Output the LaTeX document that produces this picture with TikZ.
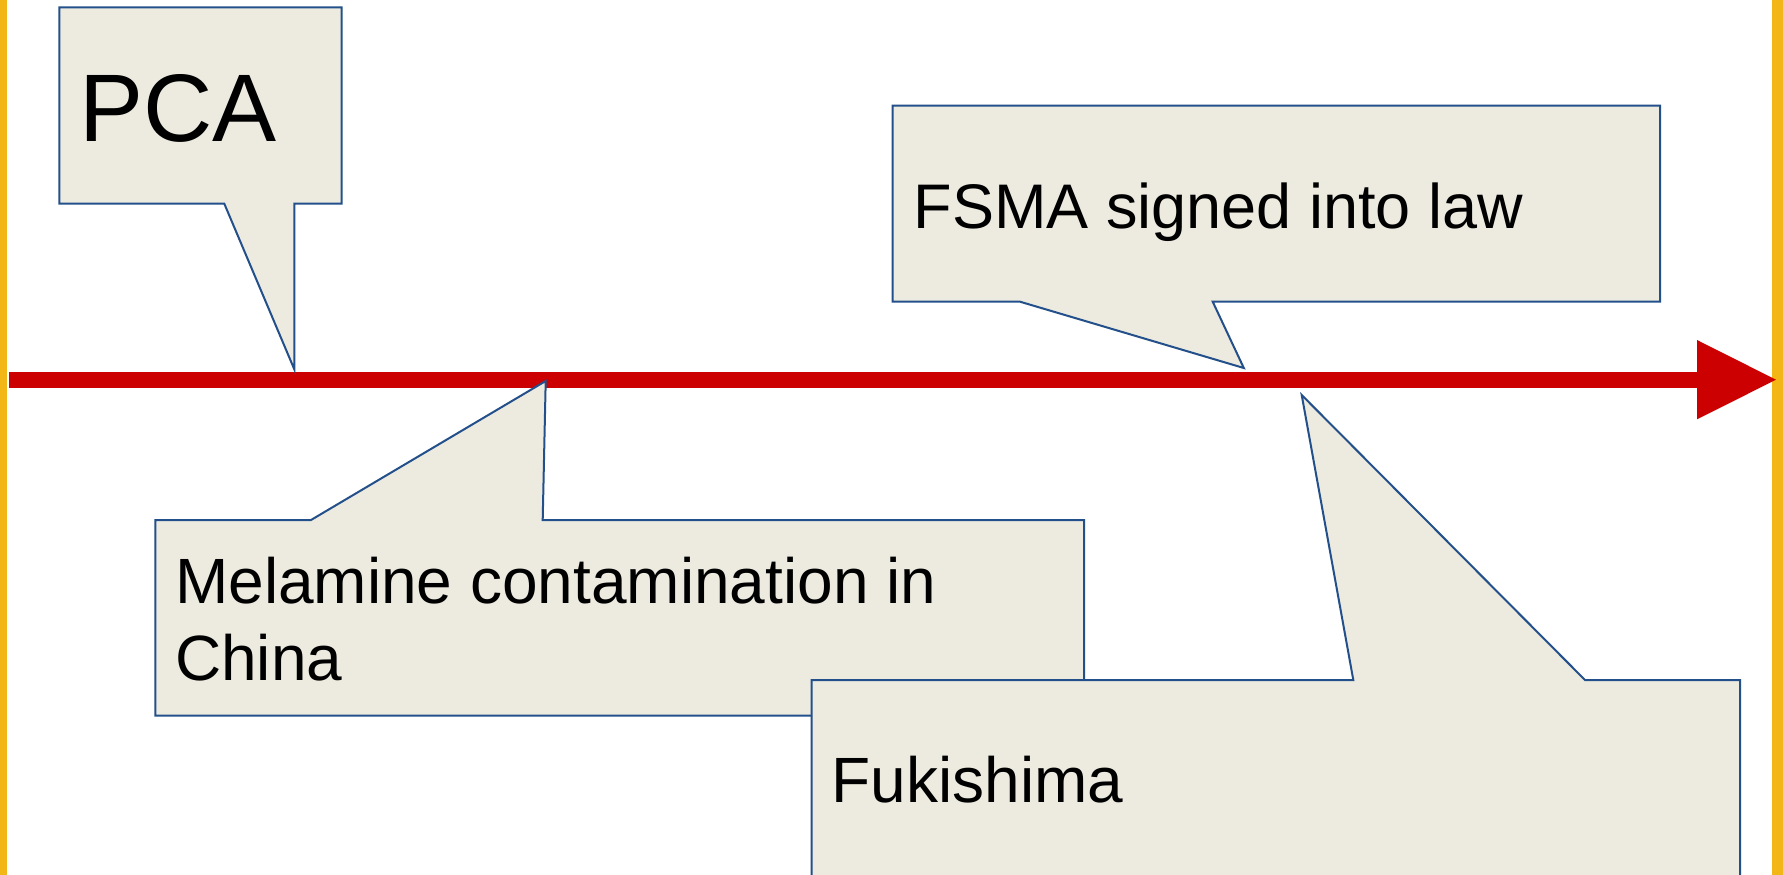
\documentclass[tikz,border=0pt]{standalone}
\usepackage{fontspec}
\setmainfont{Liberation Sans}
\definecolor{calloutfill}{HTML}{EDEBE0}
\definecolor{calloutline}{HTML}{23508A}
\definecolor{timeline}{HTML}{CC0000}
\definecolor{goldbar}{HTML}{F2B617}
\tikzset{
  callout/.style={fill=calloutfill, draw=calloutline, line width=2pt, line join=miter},
  bigtext/.style={inner sep=0pt, anchor=base west, font=\fontsize{64}{77}\selectfont, text=black},
  hugetext/.style={inner sep=0pt, anchor=base west, font=\fontsize{96}{112}\selectfont, text=black}
}
\begin{document}
\begin{tikzpicture}[x=1pt,y=-1pt]
\useasboundingbox (0,0) rectangle (1783,875);
\fill[white] (0,0) rectangle (1783,875);
% side bars
\fill[goldbar] (0,0) rectangle (7.3,875);
\fill[goldbar] (1772.3,0) rectangle (1783,875);
% timeline arrow
\coordinate (tstart) at (9,379.7);
\coordinate (tend) at (1697,379.7);
\fill[timeline] (9,371.7) rectangle (1697,387.7);
\fill[timeline] (1697,340) -- (1776,379.7) -- (1697,419.3) -- cycle;
% PCA callout
\draw[callout] (59.3,7.3) -- (341.7,7.3) -- (341.7,203.7) -- (294.3,203.7) -- (294.3,369.3) -- (224.3,203.7) -- (59.3,203.7) -- cycle;
\node[hugetext] (pca) at (79,141.7) {PCA};
% FSMA callout
\draw[callout] (892.7,105.7) -- (1660,105.7) -- (1660,301.7) -- (1212.7,301.7) -- (1243.8,368) -- (1020,301.7) -- (892.7,301.7) -- cycle;
\node[bigtext, font=\fontsize{63}{76}\selectfont] (fsma) at (913.5,228.3) {FSMA signed into law};
% Melamine callout
\draw[callout] (155.3,520) -- (311,520) -- (545.7,381) -- (542.7,520) -- (1084,520) -- (1084,715.7) -- (155.3,715.7) -- cycle;
\node[bigtext] (melamine) at (175,603.3) {\begin{tabular}[t]{@{}l@{}}Melamine contamination in\\China\end{tabular}};
% Fukishima callout
\draw[callout] (811.7,680) -- (1353.3,680) -- (1301.7,395) -- (1585,680) -- (1740,680) -- (1740,890) -- (811.7,890) -- cycle;
\node[bigtext] (fuki) at (831.5,802.7) {Fukishima};
\end{tikzpicture}
\end{document}
